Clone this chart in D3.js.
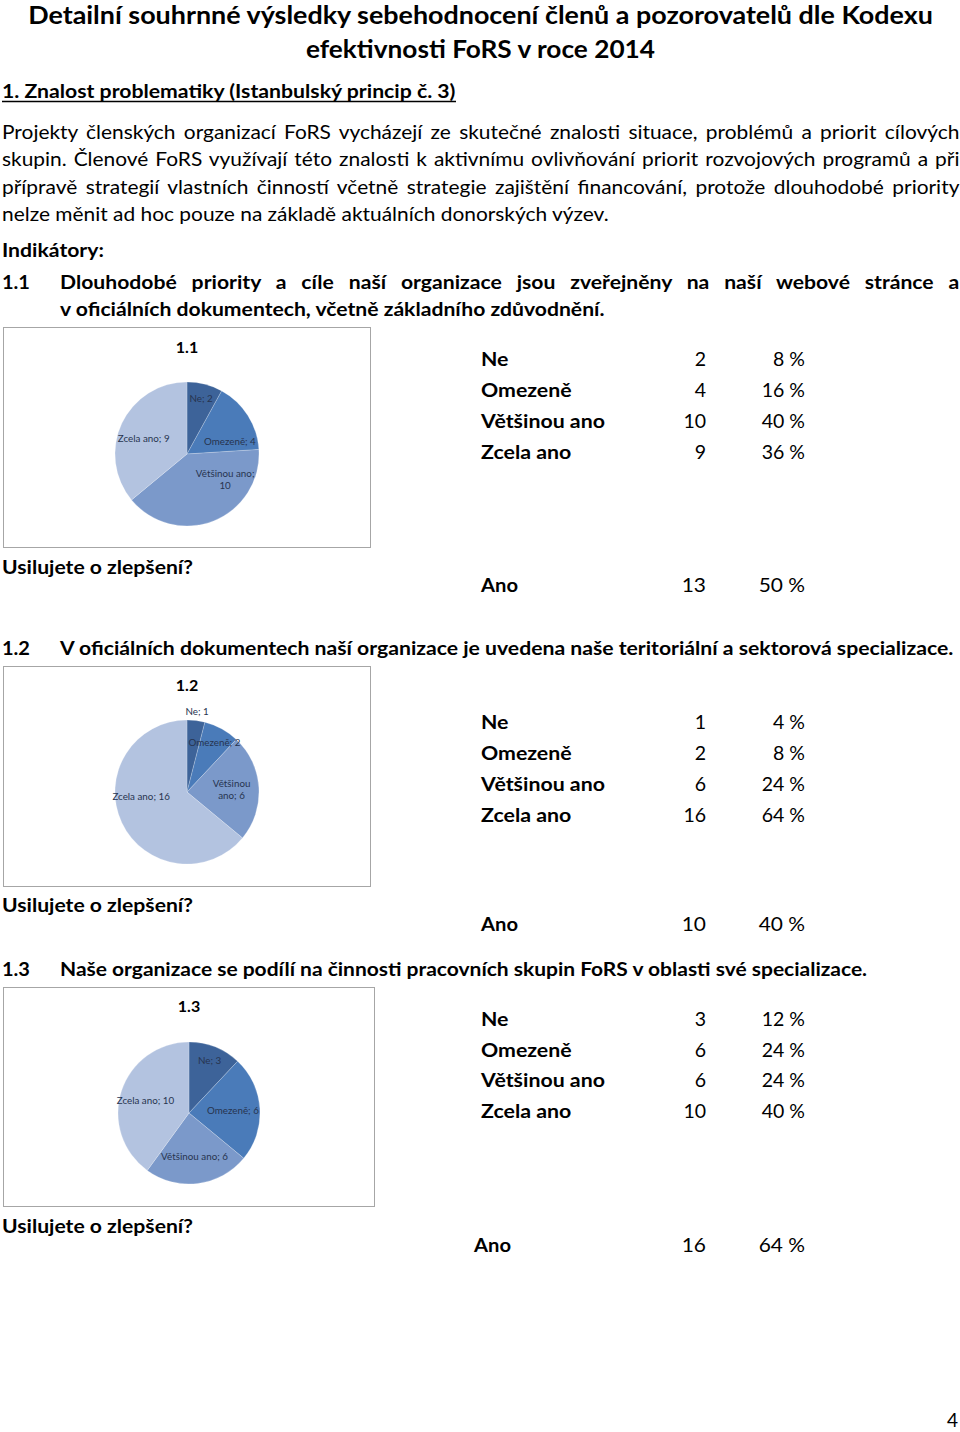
<!DOCTYPE html>
<html><head><meta charset="utf-8">
<script src="https://cdn.jsdelivr.net/npm/d3@7"></script>
<style>
body{margin:0;background:#fff}
svg{display:block}
text{font-family:Lato,"Open Sans",sans-serif;fill:#000}
</style>
</head><body>
<svg id="c" width="960" height="1432"></svg>
<script>
// ---------- DATA ----------
const categories = ["Ne", "Omezeně", "Většinou ano", "Zcela ano"];
const chartTitles = ["1.1", "1.2", "1.3"];
const counts11 = [2, 4, 10, 9];
const percents11 = [8, 16, 40, 36];
const improve11 = [13, 50];
const counts12 = [1, 2, 6, 16];
const percents12 = [4, 8, 24, 64];
const improve12 = [10, 40];
const counts13 = [3, 6, 6, 10];
const percents13 = [12, 24, 24, 40];
const improve13 = [16, 64];
// number of words on the first line of a wrapped slice label (0 = single line)
const labelWrap11 = [0, 0, 2, 0];
const labelWrap12 = [0, 0, 1, 0];
const labelWrap13 = [0, 0, 0, 0];
const improveLabel = "Ano";
const questionText = "Usilujete o zlepšení?";

const titleLines = [
  "Detailní souhrnné výsledky sebehodnocení členů a pozorovatelů dle Kodexu",
  "efektivnosti FoRS v roce 2014"
];
const headingText = "1. Znalost problematiky (Istanbulský princip č. 3)";
const paragraphLines = [
  "Projekty členských organizací FoRS vycházejí ze skutečné znalosti situace, problémů a priorit cílových",
  "skupin. Členové FoRS využívají této znalosti k aktivnímu ovlivňování priorit rozvojových programů a při",
  "přípravě strategií vlastních činností včetně strategie zajištění financování, protože dlouhodobé priority",
  "nelze měnit ad hoc pouze na základě aktuálních donorských výzev."
];
const indicatorsHeader = "Indikátory:";
const indicatorTexts = [
  ["Dlouhodobé priority a cíle naší organizace jsou zveřejněny na naší webové stránce a",
   "v oficiálních dokumentech, včetně základního zdůvodnění."],
  ["V oficiálních dokumentech naší organizace je uvedena naše teritoriální a sektorová specializace."],
  ["Naše organizace se podílí na činnosti pracovních skupin FoRS v oblasti své specializace."]
];
const pageNumber = "4";

const sliceColors = ["#3d6399", "#4a7bb9", "#7b99ca", "#b3c3e0"];

// ---------- HELPERS ----------
const svg = d3.select("#c");
svg.append("rect").attr("width", 960).attr("height", 1432).attr("fill", "#fff");

function measure(s, size, weight) {
  const t = svg.append("text").text(s).style("font-size", size + "px").style("font-weight", weight);
  const w = t.node().getComputedTextLength();
  t.remove();
  return w;
}

// o.sx: horizontal scale; o.width: target width; o.justify: fill width by word spacing
function txt(g, s, x, y, o = {}) {
  const size = o.size || 18, weight = o.weight || 400;
  let sx = o.sx || 1;
  const t = g.append("text").attr("x", 0).attr("y", 0).text(s)
    .style("font-size", size + "px")
    .style("font-weight", weight)
    .attr("text-anchor", o.anchor || "start");
  if (o.fill) t.style("fill", o.fill);
  if (o.width) {
    const w = t.node().getComputedTextLength();
    const sp = (s.match(/ /g) || []).length;
    if (o.justify && sp && w * sx < o.width) {
      t.style("word-spacing", ((o.width / sx - w) / sp) + "px");
    } else {
      sx = o.width / w;
    }
  }
  t.attr("transform", `translate(${x},${y}) scale(${sx},1)`);
  return t;
}

// ---------- TEXT BLOCK ----------
const BODY = 18.5;
const sxBody = 607 / measure(paragraphLines[3], BODY, 400);
const sxBold = 545 / measure(indicatorTexts[0][1], BODY, 700);
const TABLE = 19.5;
const sxTable = 124 / measure(categories[2], TABLE, 700);

txt(svg, titleLines[0], 480.5, 24, {size: 25, weight: 700, anchor: "middle", width: 905});
txt(svg, titleLines[1], 480.5, 58, {size: 25, weight: 700, anchor: "middle", width: 349});
txt(svg, headingText, 2, 98, {size: 19, weight: 700, width: 454});
svg.append("line").attr("x1", 2).attr("x2", 456).attr("y1", 101.5).attr("y2", 101.5)
  .attr("stroke", "#000").attr("stroke-width", 1.4);

const paraBase = [139, 166, 194, 221];
paragraphLines.forEach((l, i) => {
  const last = i === paragraphLines.length - 1;
  txt(svg, l, 2, paraBase[i], {size: BODY, sx: sxBody, width: last ? 607 : 958, justify: !last});
});
txt(svg, indicatorsHeader, 2, 257, {size: BODY, weight: 700, width: 102});

// ---------- SECTIONS ----------
const sections = [
  {num: chartTitles[0], lines: indicatorTexts[0], lineY: [289, 316], lineW: [900, 545], justify: [true, false],
   box: [3.5, 327.5, 367, 220], titleY: 353, cx: 187, cy: 454, r: 72,
   counts: counts11, percents: percents11, improve: improve11, wrap: labelWrap11,
   rowY: [366, 397, 428, 459], qY: 574, anoY: 592, anoX: 481},
  {num: chartTitles[1], lines: indicatorTexts[1], lineY: [655], lineW: [894], justify: [false],
   box: [3.5, 666.5, 367, 220], titleY: 691, cx: 187, cy: 792, r: 72,
   counts: counts12, percents: percents12, improve: improve12, wrap: labelWrap12,
   rowY: [729, 760, 791, 822], qY: 912, anoY: 931, anoX: 481},
  {num: chartTitles[2], lines: indicatorTexts[2], lineY: [976], lineW: [808], justify: [false],
   box: [3.5, 987.5, 371, 219], titleY: 1012, cx: 189, cy: 1113, r: 71,
   counts: counts13, percents: percents13, improve: improve13, wrap: labelWrap13,
   rowY: [1026, 1057, 1087, 1118], qY: 1233, anoY: 1252, anoX: 474}
];

const pie = d3.pie().sort(null).value(d => d);

sections.forEach(s => {
  // indicator heading
  txt(svg, s.num, 2, s.lineY[0], {size: BODY, weight: 700, width: 28});
  s.lines.forEach((l, i) => {
    txt(svg, l, 60, s.lineY[i], {size: BODY, weight: 700, sx: sxBold, width: s.lineW[i], justify: s.justify[i]});
  });

  // chart box
  const [bx, by, bw, bh] = s.box;
  svg.append("rect").attr("x", bx).attr("y", by).attr("width", bw).attr("height", bh)
    .attr("fill", "#fff").attr("stroke", "#a6a6a6").attr("stroke-width", 1);
  txt(svg, s.num, bx + bw / 2, s.titleY, {size: 16, weight: 700, anchor: "middle"});

  // pie
  const g = svg.append("g").attr("transform", `translate(${s.cx},${s.cy})`);
  const arcs = pie(s.counts);
  const arc = d3.arc().innerRadius(0).outerRadius(s.r);
  const total = d3.sum(s.counts);
  g.selectAll("path").data(arcs).join("path")
    .attr("d", arc)
    .attr("fill", (d, i) => sliceColors[i])
    .attr("stroke", "#ffffff").attr("stroke-opacity", 0.35).attr("stroke-width", 0.6);

  arcs.forEach((d, i) => {
    const frac = d.value / total;
    let a = (d.startAngle + d.endAngle) / 2;
    let k;
    if (frac < 0.06) k = 1.12;
    else if (frac < 0.14) k = 0.79;
    else if (frac < 0.2) { k = 0.62; a = a + 0.5 * (Math.PI / 2 - a); }
    else if (frac < 0.3) k = 0.62;
    else {
      k = 0.64;
      const h = a < Math.PI ? Math.PI / 2 : 285 * Math.PI / 180;
      a = a + 0.5 * (h - a);
    }
    const x = k * s.r * Math.sin(a), y = -k * s.r * Math.cos(a);
    const label = `${categories[i]}; ${d.value}`;
    const words = label.split(" ");
    const lines = s.wrap[i] ? [words.slice(0, s.wrap[i]).join(" "), words.slice(s.wrap[i]).join(" ")] : [label];
    const lh = 12;
    lines.forEach((ln, j) => {
      txt(g, ln, x, y + 3.5 + (j - (lines.length - 1) / 2) * lh,
        {size: 9.8, anchor: "middle", fill: "#27344f"});
    });
  });

  // table
  categories.forEach((c, i) => {
    txt(svg, c, 481, s.rowY[i], {size: TABLE, weight: 700, sx: sxTable});
    txt(svg, String(s.counts[i]), 706, s.rowY[i], {size: TABLE, anchor: "end"});
    txt(svg, s.percents[i] + " %", 805, s.rowY[i], {size: TABLE, anchor: "end"});
  });

  txt(svg, questionText, 2, s.qY, {size: BODY, weight: 700, width: 191});
  txt(svg, improveLabel, s.anoX, s.anoY, {size: BODY, weight: 700, width: 37});
  txt(svg, String(s.improve[0]), 706, s.anoY, {size: BODY, anchor: "end", sx: sxBody});
  txt(svg, s.improve[1] + " %", 805, s.anoY, {size: BODY, anchor: "end", sx: sxBody});
});

txt(svg, pageNumber, 958, 1427, {size: 19, anchor: "end"});
</script>
</body></html>
